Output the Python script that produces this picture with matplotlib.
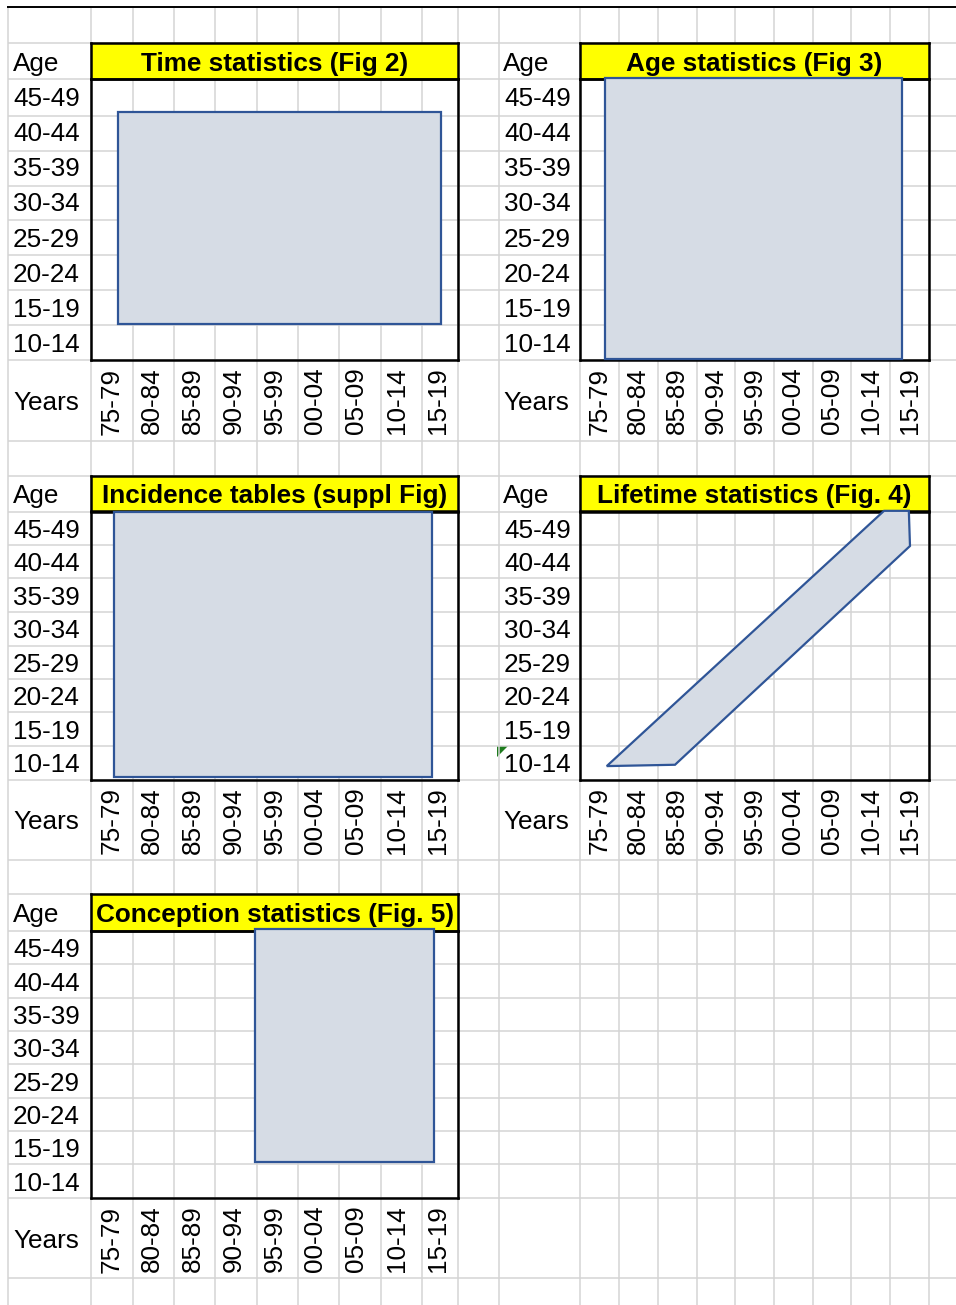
import numpy as np
import matplotlib.pyplot as plt

plt.rcParams['font.family'] = ['Liberation Sans', 'DejaVu Sans']

# categories
age_groups = ['10-14', '15-19', '20-24', '25-29', '30-34', '35-39', '40-44', '45-49']
year_groups = ['75-79', '80-84', '85-89', '90-94', '95-99', '00-04', '05-09', '10-14', '15-19']

titles = ['Time statistics (Fig 2)', 'Age statistics (Fig 3)',
          'Incidence tables (suppl Fig)', 'Lifetime statistics (Fig. 4)',
          'Conception statistics (Fig. 5)']

# shaded area of each panel, in (period index, age-group index) units
time_x = [0.65, 8.58, 8.58, 0.65]
time_y = [1.02, 1.02, 7.05, 7.05]
age_x = [0.65, 8.31, 8.31, 0.65]
age_y = [0.03, 0.03, 8.04, 8.04]
incid_x = [0.56, 8.37, 8.37, 0.56]
incid_y = [0.08, 0.08, 7.99, 7.99]
life_x = [0.69, 2.45, 8.51, 8.48, 7.84]
life_y = [0.40, 0.44, 6.97, 8.02, 8.02]
concep_x = [4.02, 8.42, 8.42, 4.02]
concep_y = [1.07, 1.07, 8.05, 8.05]

# sheet layout (pixels)
W, H = 956, 1305
col_edges = [8, 91, 133, 174, 215, 257, 298, 339, 381, 422, 458, 499,
             580, 619, 658, 697, 735, 774, 813, 851, 890, 929]
row_edges = [43, 79, 116, 151, 186, 220, 255, 290, 325, 360, 441, 476,
             512, 545, 578, 612, 646, 679, 712, 746, 780, 860, 894, 931,
             964, 998, 1031, 1064, 1098, 1131, 1164, 1198, 1278]
grid_col = '#D4D4D4'
fill_col = '#D6DCE5'
edge_col = '#2F5597'
fs = 18.8

fig = plt.figure(figsize=(W / 100, H / 100), dpi=100)
bg = fig.add_axes([0, 0, 1, 1])
bg.set_xlim(0, W)
bg.set_ylim(H, 0)
bg.axis('off')
bg.vlines(col_edges, 7, H, color=grid_col, lw=1.1)
bg.hlines(row_edges, 8, W, color=grid_col, lw=1.1)
bg.hlines(7, 7, W, color='black', lw=1.4)
bg.fill([497, 508, 497], [746, 746, 757], color='#1E7B1E', lw=0)


def px_rect(x0, y0, x1, y1):
    return [x0 / W, 1 - y1 / H, (x1 - x0) / W, (y1 - y0) / H]


def panel(x0, x1, yt, y0, y1, yb, lab_x, title, px, py, ypad):
    tax = fig.add_axes(px_rect(x0, yt, x1, y0))
    tax.set_facecolor('#FFFF00')
    tax.set_xticks([])
    tax.set_yticks([])
    for s in tax.spines.values():
        s.set_linewidth(1.8)
    tax.text(0.5, 0.5, title, ha='center', va='center_baseline',
             fontsize=fs, weight='bold', transform=tax.transAxes)

    ax = fig.add_axes(px_rect(x0, y0, x1, y1))
    ax.set_facecolor('none')
    ax.set_xlim(0, len(year_groups))
    ax.set_ylim(0, len(age_groups))
    ax.fill(px, py, facecolor=fill_col, edgecolor=edge_col, lw=1.6,
            clip_on=False, zorder=3)
    ax.set_xticks(np.arange(len(year_groups)) + 0.5, year_groups, rotation=90)
    ax.set_yticks(np.arange(len(age_groups)) + 0.5, age_groups)
    ax.tick_params(axis='x', length=0, labelsize=fs, pad=5.5)
    ax.tick_params(axis='y', length=0, labelsize=fs, pad=ypad)
    for s in ax.spines.values():
        s.set_linewidth(1.8)

    bg.text(lab_x, (yt + y0) / 2, 'Age', fontsize=fs, va='center_baseline')
    bg.text(lab_x, (y1 + yb) / 2, 'Years', fontsize=fs, va='center_baseline')


left = (91, 458, 13)
right = (580, 929, 503)
blocks = [(43, 79, 360, 441), (476, 511.5, 779.5, 860), (894, 931, 1198, 1278)]

panel(left[0], left[1], *blocks[0], left[2], titles[0], time_x, time_y, 8)
panel(right[0], right[1], *blocks[0], right[2], titles[1], age_x, age_y, 6.7)
panel(left[0], left[1], *blocks[1], left[2], titles[2], incid_x, incid_y, 8)
panel(right[0], right[1], *blocks[1], right[2], titles[3], life_x, life_y, 6.7)
panel(left[0], left[1], *blocks[2], left[2], titles[4], concep_x, concep_y, 8)

plt.savefig('out.png', dpi=100)
